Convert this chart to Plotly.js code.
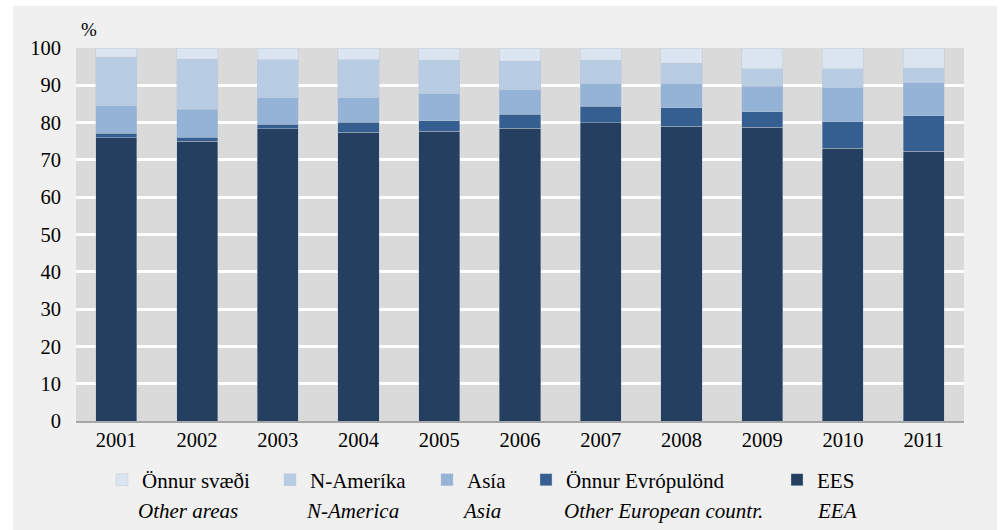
<!DOCTYPE html>
<html>
<head>
<meta charset="utf-8">
<script src="https://cdn.plot.ly/plotly-3.0.1.min.js"></script>
<style>
  html, body { margin: 0; padding: 0; background: #ffffff; width: 1002px; height: 530px; overflow: hidden; }
  #chart { position: absolute; left: 13px; top: 6px; width: 984px; height: 524px; }
</style>
</head>
<body>
<div id="chart"></div>
<script>
const years = ['2001','2002','2003','2004','2005','2006','2007','2008','2009','2010','2011'];
const ees        = [76.0, 75.0, 78.4, 77.4, 77.7, 78.5, 80.0, 79.0, 78.7, 73.1, 72.3];
const otherEur   = [1.2, 1.1, 1.2, 2.7, 2.8, 3.7, 4.4, 5.0, 4.2, 7.1, 9.6];
const asia       = [7.3, 7.5, 7.1, 6.6, 7.2, 6.6, 6.0, 6.4, 6.8, 9.1, 8.8];
const nAmerica   = [13.0, 13.4, 10.1, 10.1, 9.0, 7.7, 6.3, 5.5, 4.8, 5.2, 3.9];
const otherAreas = [2.5, 3.0, 3.2, 3.2, 3.3, 3.5, 3.3, 4.1, 5.5, 5.5, 5.4];
const seriesNames = ['EES', 'Önnur Evrópulönd', 'Asía', 'N-Ameríka', 'Önnur svæði'];
const seriesNamesEn = ['EEA', 'Other European countr.', 'Asia', 'N-America', 'Other areas'];
const seriesColors = ['#243f60', '#365f91', '#95b3d7', '#b8cce4', '#dbe5f1'];
const seriesValues = [ees, otherEur, asia, nAmerica, otherAreas];
const legendWidths = [60, 206, 54, 112, 123];

const FONT = 'Liberation Serif, Times New Roman, serif';

const traces = seriesValues.map((vals, i) => ({
  type: 'bar',
  x: years,
  y: vals,
  name: seriesNames[i],
  legendwidth: legendWidths[i],
  marker: { color: seriesColors[i], line: { color: 'rgba(190,200,215,0.55)', width: 0.8 } },
  hoverinfo: 'x+y+name'
}));

// plot area in page pixels: x 76..964, y 48(100)..421(0)
const PL = 76, PR = 964, PT = 48, PB = 421;
const px = (x) => (x - PL) / (PR - PL);
const py = (y) => (PB - y) / (PB - PT);

const enCenters = [837, 663, 481, 352, 188];
const annotations = seriesNamesEn.map((t, i) => ({
  text: '<i>' + t + '</i>',
  xref: 'paper', yref: 'paper',
  x: px(enCenters[i]), y: py(511),
  xanchor: 'center', yanchor: 'middle',
  showarrow: false,
  font: { family: FONT, size: 21, color: '#000000' }
}));
annotations.push({
  text: '%',
  xref: 'paper', yref: 'paper',
  x: px(79), y: py(30),
  xanchor: 'left', yanchor: 'middle',
  showarrow: false,
  font: { family: FONT, size: 19, color: '#000000' }
});

const layout = {
  width: 984, height: 524,
  paper_bgcolor: '#f0f0f0',
  plot_bgcolor: '#dadada',
  margin: { l: 63, r: 33, t: 42, b: 109, pad: 0 },
  barmode: 'stack',
  bargap: 0.49,
  font: { family: FONT, size: 20.5, color: '#000000' },
  showlegend: true,
  legend: {
    orientation: 'h',
    traceorder: 'reversed',
    x: px(102), xanchor: 'left',
    y: py(480), yanchor: 'middle',
    bgcolor: 'rgba(0,0,0,0)',
    font: { family: FONT, size: 21, color: '#000000' },
    itemclick: false, itemdoubleclick: false
  },
  xaxis: {
    type: 'category',
    showgrid: false,
    showline: true, linecolor: '#a6a6a6', linewidth: 1.5,
    ticks: '',
    tickfont: { family: FONT, size: 20.5, color: '#000000' },
    fixedrange: true
  },
  yaxis: {
    range: [0, 100],
    tickvals: [0,10,20,30,40,50,60,70,80,90,100],
    showgrid: true, gridcolor: '#ffffff', gridwidth: 3,
    zeroline: false,
    showline: false,
    ticks: '',
    ticklabelstandoff: 14,
    tickfont: { family: FONT, size: 20.5, color: '#000000' },
    fixedrange: true
  },
  annotations: annotations
};

Plotly.newPlot('chart', traces, layout, { displayModeBar: false, staticPlot: true });
</script>
</body>
</html>
